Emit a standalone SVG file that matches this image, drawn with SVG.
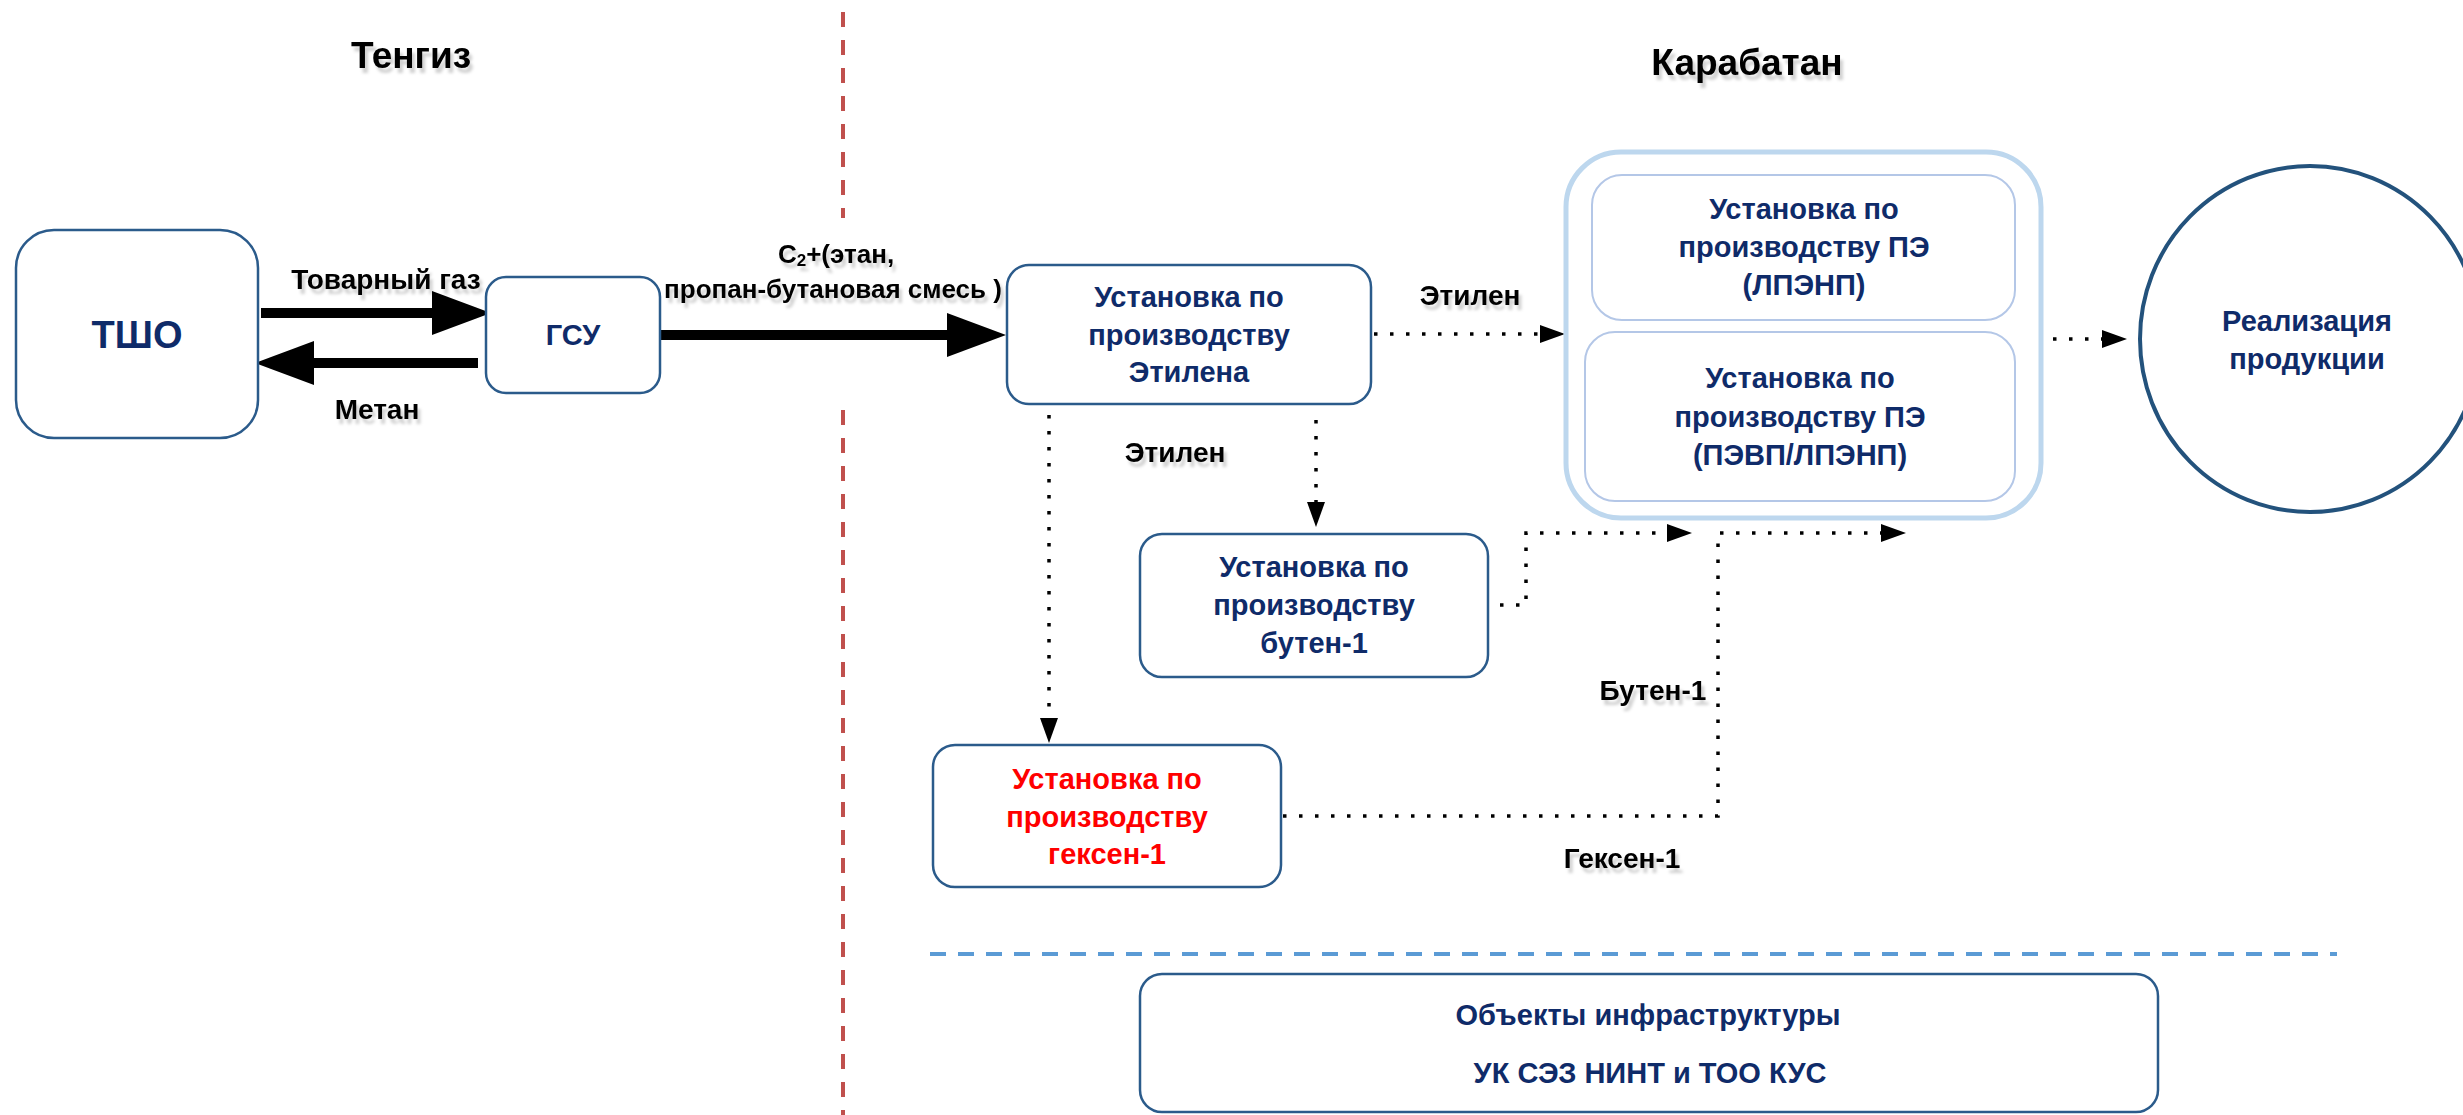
<svg xmlns="http://www.w3.org/2000/svg" width="2463" height="1115" viewBox="0 0 2463 1115">
<style>
text{font-family:"Liberation Sans",Arial,sans-serif;font-weight:bold;text-anchor:middle}
.lbl{fill:#000;font-size:28px}
.title{fill:#000;font-size:37px}
.nt{fill:#0f2b69;font-size:29px}
.red{fill:#ff0000;font-size:29px}
.box{fill:#fff;stroke:#2b5b8b;stroke-width:2.5}
.inner{fill:#fff;stroke:#b4c7e7;stroke-width:2}
.thick{stroke:#000;stroke-width:10;fill:none}
.dot{stroke:#000;stroke-width:3.5;stroke-dasharray:3.5 12.5;fill:none}
</style>
<defs>
<filter id="sh" x="-10%" y="-30%" width="130%" height="180%"><feDropShadow dx="3" dy="5" stdDeviation="1.5" flood-color="#000" flood-opacity="0.18"/></filter>
<marker id="bigHead" markerUnits="userSpaceOnUse" markerWidth="60" markerHeight="44" refX="4" refY="22" orient="auto"><path d="M0,0 L59,22 L0,44 z" fill="#000"/></marker>
<marker id="dotHead" markerUnits="userSpaceOnUse" markerWidth="26" markerHeight="18" refX="2" refY="9" orient="auto"><path d="M0,0 L25,9 L0,18 z" fill="#000"/></marker>
</defs>
<rect width="2463" height="1115" fill="#fff"/>

<g id="separators">
<line x1="843" y1="12" x2="843" y2="218" stroke="#c0504d" stroke-width="4" stroke-dasharray="15 13"/>
<line x1="843" y1="410" x2="843" y2="1115" stroke="#c0504d" stroke-width="4" stroke-dasharray="15 13"/>
<line x1="930" y1="954" x2="2337" y2="954" stroke="#5b9bd5" stroke-width="4" stroke-dasharray="16 12"/>
</g>

<g id="titles">
<text class="title" x="411" y="68" filter="url(#sh)">Тенгиз</text>
<text class="title" x="1747" y="75" filter="url(#sh)">Карабатан</text>
</g>

<g id="connectors">
<line class="thick" x1="261" y1="313" x2="436" y2="313" marker-end="url(#bigHead)"/>
<line class="thick" x1="478" y1="363" x2="310" y2="363" marker-end="url(#bigHead)"/>
<line class="thick" x1="660" y1="335" x2="951" y2="335" marker-end="url(#bigHead)"/>
<path class="dot" d="M1374,334 H1542" marker-end="url(#dotHead)"/>
<path class="dot" d="M1049,415 V720" marker-end="url(#dotHead)"/>
<path class="dot" d="M1316,420 V504" marker-end="url(#dotHead)"/>
<path class="dot" d="M1500,605 H1526 V533 H1669" marker-end="url(#dotHead)"/>
<path class="dot" d="M1283,816 H1718 V533 H1883" marker-end="url(#dotHead)"/>
<path class="dot" d="M2053,339 H2104" marker-end="url(#dotHead)"/>
<text class="lbl" x="386" y="289" filter="url(#sh)">Товарный газ</text>
<text class="lbl" x="377" y="419" filter="url(#sh)">Метан</text>
<text class="lbl" x="836" y="263" style="font-size:26px" filter="url(#sh)">C<tspan style="font-size:17px" dy="3">2</tspan><tspan dy="-3">+(этан,</tspan></text>
<text class="lbl" x="833" y="298" style="font-size:26px" filter="url(#sh)">пропан-бутановая смесь )</text>
<text class="lbl" x="1470" y="305" filter="url(#sh)">Этилен</text>
<text class="lbl" x="1175" y="462" filter="url(#sh)">Этилен</text>
<text class="lbl" x="1653" y="700" filter="url(#sh)">Бутен-1</text>
<text class="lbl" x="1622" y="868" filter="url(#sh)">Гексен-1</text>
</g>

<g id="node-tsho">
<rect class="box" x="16" y="230" width="242" height="208" rx="38"/>
<text class="nt" x="137" y="348" style="font-size:38px">ТШО</text>
</g>

<g id="node-gsu">
<rect class="box" x="486" y="277" width="174" height="116" rx="20"/>
<text class="nt" x="573" y="345">ГСУ</text>
</g>

<g id="node-ethylene">
<rect class="box" x="1007" y="265" width="364" height="139" rx="22"/>
<text class="nt" x="1189" y="307">Установка по</text>
<text class="nt" x="1189" y="345">производству</text>
<text class="nt" x="1189" y="382">Этилена</text>
</g>

<g id="node-pe">
<rect x="1566" y="152" width="475" height="366" rx="55" fill="#fff" stroke="#bdd7ee" stroke-width="5"/>
<g id="node-pe-ldpe">
<rect class="inner" x="1592" y="175" width="423" height="145" rx="30"/>
<text class="nt" x="1804" y="219">Установка по</text>
<text class="nt" x="1804" y="257">производству ПЭ</text>
<text class="nt" x="1804" y="295">(ЛПЭНП)</text>
</g>
<g id="node-pe-hdpe">
<rect class="inner" x="1585" y="332" width="430" height="169" rx="30"/>
<text class="nt" x="1800" y="388">Установка по</text>
<text class="nt" x="1800" y="427">производству ПЭ</text>
<text class="nt" x="1800" y="465">(ПЭВП/ЛПЭНП)</text>
</g>
</g>

<g id="node-sales">
<ellipse cx="2310" cy="339" rx="170" ry="173" fill="#fff" stroke="#23527c" stroke-width="4"/>
<text class="nt" x="2307" y="331">Реализация</text>
<text class="nt" x="2307" y="369">продукции</text>
</g>

<g id="node-butene">
<rect class="box" x="1140" y="534" width="348" height="143" rx="22"/>
<text class="nt" x="1314" y="577">Установка по</text>
<text class="nt" x="1314" y="615">производству</text>
<text class="nt" x="1314" y="653">бутен-1</text>
</g>

<g id="node-hexene">
<rect class="box" x="933" y="745" width="348" height="142" rx="22"/>
<text class="red" x="1107" y="789">Установка по</text>
<text class="red" x="1107" y="827">производству</text>
<text class="red" x="1107" y="864">гексен-1</text>
</g>

<g id="node-infra">
<rect class="box" x="1140" y="974" width="1018" height="138" rx="22"/>
<text class="nt" x="1648" y="1025">Объекты инфраструктуры</text>
<text class="nt" x="1650" y="1083">УК СЭЗ НИНТ и ТОО КУС</text>
</g>
</svg>
